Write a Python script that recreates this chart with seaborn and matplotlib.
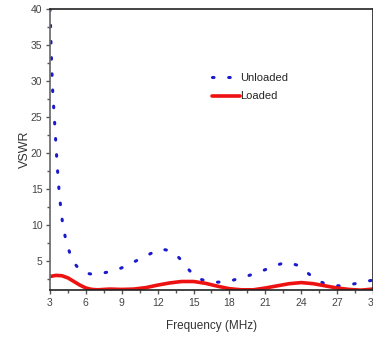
import numpy as np
import pandas as pd
import seaborn as sns
import matplotlib.pyplot as plt
from matplotlib.ticker import MultipleLocator

# VSWR
freq_unloaded = [3.0, 3.06, 3.1, 3.14, 3.23, 3.34, 3.44, 3.56, 3.65, 3.75, 3.9, 4.06, 4.32, 4.7,
                 5.0, 5.5, 6.0, 6.6, 7.2, 7.8, 8.4, 9.0, 10.0, 11.2, 11.8, 12.3, 12.8, 13.5,
                 14.0, 14.6, 15.1, 15.7, 16.3, 16.9, 17.5, 18.0, 19.1, 20.3, 21.4, 22.0, 22.6,
                 23.1, 23.7, 24.3, 24.9, 25.4, 26.0, 26.5, 27.1, 27.6, 28.2, 28.8, 29.4, 30.0]
vswr_unloaded = [40.0, 37.0, 34.4, 32.2, 28.5, 25.6, 22.8, 19.5, 17.2, 15.0, 12.4, 10.2, 8.0, 5.9,
                 4.8, 3.8, 3.35, 3.2, 3.3, 3.5, 3.75, 4.1, 4.9, 5.9, 6.4, 6.7, 6.55, 6.0,
                 5.1, 3.85, 2.9, 2.45, 2.2, 2.1, 2.15, 2.25, 2.75, 3.4, 4.1, 4.5, 4.8,
                 4.75, 4.45, 3.7, 2.9, 2.3, 1.9, 1.7, 1.6, 1.65, 1.8, 2.0, 2.2, 2.4]

freq_loaded = [3.0, 3.5, 4.0, 4.5, 5.0, 5.5, 6.0, 6.5, 7.0, 8.0, 9.0, 10.0, 11.0, 12.0, 13.0,
               14.0, 15.0, 16.0, 17.0, 18.0, 19.0, 20.0, 21.0, 22.0, 23.0, 24.0, 25.0, 26.0,
               27.0, 28.0, 29.0, 30.0]
vswr_loaded = [2.9, 3.05, 3.0, 2.7, 2.2, 1.7, 1.3, 1.1, 1.05, 1.15, 1.1, 1.15, 1.35, 1.7, 2.0,
               2.2, 2.2, 1.95, 1.55, 1.2, 1.05, 1.05, 1.3, 1.6, 1.9, 2.05, 1.9, 1.6,
               1.3, 1.1, 1.0, 1.15]

df_un = pd.DataFrame({'freq': freq_unloaded, 'vswr': vswr_unloaded})
df_lo = pd.DataFrame({'freq': freq_loaded, 'vswr': vswr_loaded})

sns.set_style('ticks')
plt.rcParams['font.family'] = ['Liberation Sans', 'DejaVu Sans']

fig = plt.figure(figsize=(3.73, 3.37), dpi=100)
ax = fig.add_axes([0.134, 0.139, 0.866, 0.834])

sns.lineplot(data=df_un, x='freq', y='vswr', ax=ax, color='#1a1acc', lw=2.2,
             linestyle=(0, (0.5, 4.8)), dash_capstyle='round', label='Unloaded',
             estimator=None, sort=False)
sns.lineplot(data=df_lo, x='freq', y='vswr', ax=ax, color='#ee1111', lw=2.6,
             label='Loaded', estimator=None, sort=False)

ax.set_xlim(3, 30)
ax.set_ylim(1, 40)
ax.xaxis.set_major_locator(MultipleLocator(3))
ax.xaxis.set_minor_locator(MultipleLocator(1.5))
ax.set_yticks([5, 10, 15, 20, 25, 30, 35, 40])
ax.yaxis.set_minor_locator(MultipleLocator(2.5))
ax.tick_params(which='major', direction='out', length=3, width=1, colors='#555555',
               labelsize=7.5, labelcolor='#444444', pad=2.5)
ax.tick_params(which='minor', direction='out', length=2, width=1, colors='#555555')

for side in ['left', 'bottom', 'top', 'right']:
    ax.spines[side].set_visible(True)
    ax.spines[side].set_linewidth(1.2)
ax.spines['left'].set_color('#666666')
ax.spines['bottom'].set_color('#222222')
ax.spines['top'].set_color('#222222')
ax.spines['right'].set_color('#222222')

ax.set_xlabel('Frequency (MHz)', fontsize=8.5, color='#333333', labelpad=9)
ax.set_ylabel('VSWR', fontsize=9, color='#333333', labelpad=0)

ax.legend(loc='upper left', bbox_to_anchor=(0.47, 0.808), frameon=False, fontsize=8,
          handlelength=2.5, handletextpad=0.05, labelspacing=0.75)

fig.savefig('out.png', dpi=100)
